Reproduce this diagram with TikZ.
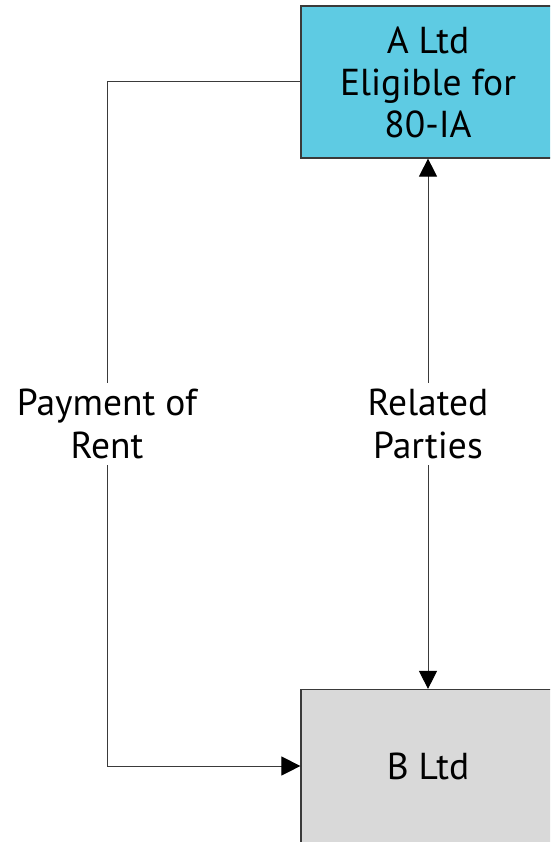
\documentclass[tikz,border=0pt]{standalone}
\usepackage{fontspec}
\setmainfont{PT Sans}
\usetikzlibrary{arrows.meta}
\definecolor{boxcyan}{HTML}{5ECBE3}
\definecolor{boxgray}{HTML}{D9D9D9}
\definecolor{edgegray}{HTML}{3A3A3A}
\begin{document}
\begin{tikzpicture}[x=1pt,y=-1pt,
  entity/.style={draw=edgegray, line width=1.2pt, minimum width=254pt,
    align=center, inner sep=0pt, font=\fontsize{37.5}{42}\selectfont},
  flow/.style={draw=edgegray, line width=1pt},
  head/.style={Triangle[length=19pt,width=19pt,color=black,fill=black]},
  label/.style={fill=white, align=center, inner xsep=2pt, inner ysep=6pt,
    font=\fontsize{37.5}{43}\selectfont}]
\useasboundingbox (0,0) rectangle (550,842);
\clip (0,0) rectangle (550,842);
% the two companies
\node[entity, fill=boxcyan, minimum height=152pt] (A) at (428,82)
  {A Ltd\\Eligible for\\80-IA};
\node[entity, fill=boxgray, minimum height=153pt] (B) at (428,766) {B Ltd};
% rent paid from B Ltd to A Ltd
\coordinate (c1) at (107,82);
\coordinate (c2) at (107,766);
\draw[flow, -{Triangle[length=19pt,width=19pt,color=black,fill=black]}]
  (A.west) -- (c1) -- node[label] {Payment of\\Rent} (c2) -- (B.west);
% related-party link
\draw[flow, {Triangle[length=18pt,width=18pt,color=black,fill=black]}-{Triangle[length=18pt,width=18pt,color=black,fill=black]}]
  (A.south) -- node[label] {Related\\Parties} (B.north);
\end{tikzpicture}
\end{document}
